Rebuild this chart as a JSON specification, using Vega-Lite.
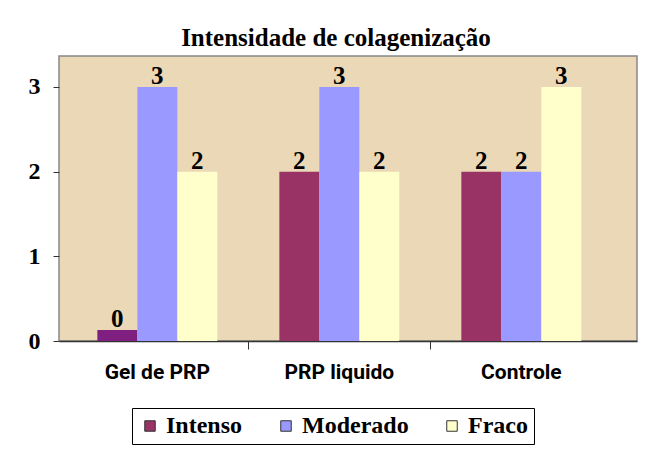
{
  "$schema": "https://vega.github.io/schema/vega-lite/v6.json",
  "autosize": {"type": "none"},
  "padding": {"left": 59, "top": 56, "right": 22, "bottom": 114},
  "width": 578,
  "height": 285,
  "background": "white",
  "title": {
    "text": "Intensidade de colagenização",
    "font": "Liberation Serif",
    "fontSize": 25,
    "fontWeight": "bold",
    "color": "black",
    "frame": "group",
    "offset": 9,
    "baseline": "bottom",
    "dy": 29,
    "dx": -12
  },
  "data": {
    "values": [
      {"grupo": "Gel de PRP", "serie": "Intenso", "valor": 0.13},
      {"grupo": "Gel de PRP", "serie": "Moderado", "valor": 3},
      {"grupo": "Gel de PRP", "serie": "Fraco", "valor": 2},
      {"grupo": "PRP liquido", "serie": "Intenso", "valor": 2},
      {"grupo": "PRP liquido", "serie": "Moderado", "valor": 3},
      {"grupo": "PRP liquido", "serie": "Fraco", "valor": 2},
      {"grupo": "Controle", "serie": "Intenso", "valor": 2},
      {"grupo": "Controle", "serie": "Moderado", "valor": 2},
      {"grupo": "Controle", "serie": "Fraco", "valor": 3}
    ]
  },
  "encoding": {
    "x": {
      "field": "grupo",
      "type": "nominal",
      "sort": ["Gel de PRP", "PRP liquido", "Controle"],
      "scale": {"paddingInner": 0, "paddingOuter": 0.088, "align": 0.23},
      "axis": {
        "title": null,
        "labelAngle": 0,
        "bandPosition": 0,
        "tickSize": 8,
        "tickColor": "#333333",
        "tickOpacity": {"condition": {"test": "datum.value == 'Gel de PRP'", "value": 0}, "value": 1},
        "domainColor": "#333333",
        "domainWidth": 1.5,
        "labelFont": "Roboto",
        "labelFontSize": 21,
        "labelFontWeight": "bold",
        "labelColor": "black",
        "labelPadding": 12
      }
    },
    "xOffset": {
      "field": "serie",
      "type": "nominal",
      "sort": ["Intenso", "Moderado", "Fraco"],
      "scale": {"paddingInner": 0, "paddingOuter": 0.775}
    },
    "y": {
      "field": "valor",
      "type": "quantitative",
      "scale": {"domain": [0, 3.366], "nice": false, "zero": true},
      "axis": {
        "title": null,
        "values": [0, 1, 2, 3],
        "domain": false,
        "grid": false,
        "tickSize": 6,
        "tickColor": "#333333",
        "labelFont": "Liberation Serif",
        "labelFontSize": 24,
        "labelFontWeight": "bold",
        "labelColor": "black",
        "labelPadding": 13
      }
    }
  },
  "layer": [
    {
      "mark": {"type": "bar"},
      "encoding": {
        "color": {
          "condition": {"test": "datum.valor < 0.5", "value": "#7F1F7F"},
          "field": "serie",
          "type": "nominal",
          "sort": ["Intenso", "Moderado", "Fraco"],
          "scale": {"domain": ["Intenso", "Moderado", "Fraco"], "range": ["#993366", "#9999FF", "#FFFFCC"]},
          "legend": {
            "title": null,
            "orient": "none",
            "legendX": 73,
            "legendY": 352,
            "direction": "horizontal",
            "symbolType": "square",
            "symbolSize": 110,
            "symbolStrokeColor": "#333333",
            "symbolStrokeWidth": 1,
            "labelFont": "Liberation Serif",
            "labelFontSize": 24,
            "labelFontWeight": "bold",
            "labelColor": "black",
            "labelOffset": 4,
            "labelLimit": 200,
            "strokeColor": "black",
            "fillColor": "white",
            "padding": 6,
            "columnPadding": 31
          }
        }
      }
    },
    {
      "mark": {
        "type": "text",
        "baseline": "alphabetic",
        "dy": -3,
        "font": "Liberation Serif",
        "fontSize": 25,
        "fontWeight": "bold",
        "color": "black"
      },
      "encoding": {
        "text": {"field": "valor", "type": "quantitative", "format": ".0f"}
      }
    }
  ],
  "config": {
    "view": {"fill": "#EAD8B6", "stroke": "#888888", "strokeWidth": 1.5}
  }
}
